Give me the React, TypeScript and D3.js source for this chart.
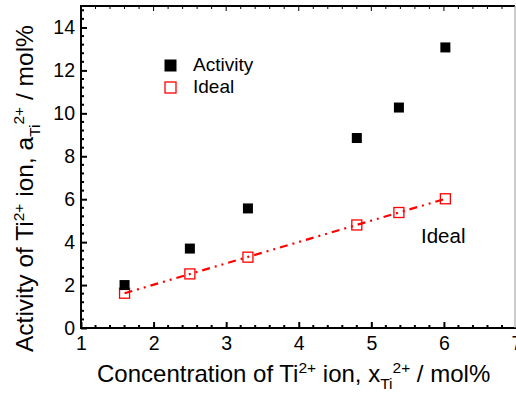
import { useEffect, useRef } from "react";
import * as d3 from "d3";

const concentration = [1.6, 2.5, 3.3, 4.8, 5.38, 6.02];
const activity = [2.0, 3.7, 5.57, 8.85, 10.27, 13.07];
const ideal = [1.62, 2.52, 3.3, 4.8, 5.38, 6.02];
const xTicks = [1, 2, 3, 4, 5, 6, 7];
const yTicks = [0, 2, 4, 6, 8, 10, 12, 14];

export default function App() {
  const svgRef = useRef<SVGSVGElement>(null);

  useEffect(() => {
    if (!svgRef.current) return;
    const svg = d3.select(svgRef.current);
    svg.selectAll("*").remove();

    const left = 81, right = 515, top = 6, bottom = 328;
    const x = d3.scaleLinear().domain([1, 7]).range([left, right + 1.5]);
    const y = d3.scaleLinear().domain([0, 15]).range([bottom, top]);
    const font = "Liberation Sans, Arial, sans-serif";

    // minor ticks
    const xMinor = d3.range(1, 7.01, 0.2).filter(v => Math.abs(v - Math.round(v)) > 0.01);
    const yMinor = d3.range(0, 15.01, 0.4).filter(v => Math.abs(v / 2 - Math.round(v / 2)) > 0.01);

    // bottom axis
    const gx = svg.append("g").attr("transform", `translate(0,${bottom})`)
      .call(d3.axisBottom(x).tickValues(xTicks).tickSize(-6).tickPadding(8).tickFormat(d3.format("d")));
    gx.select(".domain").remove();
    gx.selectAll("line").attr("stroke", "#000").attr("stroke-width", 2);
    gx.selectAll("text").attr("font-family", font).attr("font-size", 19.5).attr("fill", "#000");
    gx.selectAll(".minor").data(xMinor).enter().append("line")
      .attr("x1", d => x(d)).attr("x2", d => x(d)).attr("y1", 0).attr("y2", -3)
      .attr("stroke", "#000").attr("stroke-width", 2);

    // top axis ticks
    const gt = svg.append("g").attr("transform", `translate(0,${top})`);
    gt.selectAll("line.maj").data(xTicks).enter().append("line")
      .attr("x1", d => x(d)).attr("x2", d => x(d)).attr("y1", 0).attr("y2", 5)
      .attr("stroke", "#000").attr("stroke-width", 1);
    gt.selectAll("line.min").data(xMinor).enter().append("line")
      .attr("x1", d => x(d)).attr("x2", d => x(d)).attr("y1", 0).attr("y2", 3)
      .attr("stroke", "#000").attr("stroke-width", 1);

    // left axis
    const gy = svg.append("g").attr("transform", `translate(${left},0)`)
      .call(d3.axisLeft(y).tickValues(yTicks).tickSize(-6).tickPadding(6).tickFormat(d3.format("d")));
    gy.select(".domain").remove();
    gy.selectAll("line").attr("stroke", "#000").attr("stroke-width", 2);
    gy.selectAll("text").attr("font-family", font).attr("font-size", 19.5).attr("fill", "#000");
    gy.selectAll(".minor").data(yMinor).enter().append("line")
      .attr("x1", 0).attr("x2", 3).attr("y1", d => y(d)).attr("y2", d => y(d))
      .attr("stroke", "#000").attr("stroke-width", 2);

    // frame
    svg.append("line").attr("x1", left).attr("x2", left).attr("y1", top - 1).attr("y2", bottom + 1)
      .attr("stroke", "#000").attr("stroke-width", 2);
    svg.append("line").attr("x1", left - 1).attr("x2", right + 1).attr("y1", bottom).attr("y2", bottom)
      .attr("stroke", "#000").attr("stroke-width", 2);
    svg.append("line").attr("x1", left - 1).attr("x2", right).attr("y1", top).attr("y2", top)
      .attr("stroke", "#000").attr("stroke-width", 2);
    svg.append("line").attr("x1", right).attr("x2", right).attr("y1", top).attr("y2", bottom)
      .attr("stroke", "#999").attr("stroke-width", 1);

    // ideal line (linear fit)
    const n = concentration.length;
    const mx = d3.mean(concentration)!, my = d3.mean(ideal)!;
    const slope = d3.sum(concentration, (c, i) => (c - mx) * (ideal[i] - my)) /
      d3.sum(concentration, c => (c - mx) ** 2);
    const icpt = my - slope * mx;
    const ends = [concentration[0], concentration[n - 1]];
    svg.append("path")
      .attr("d", d3.line<number>().x(d => x(d)).y(d => y(icpt + slope * d))(ends))
      .attr("fill", "none").attr("stroke", "#ff0000").attr("stroke-width", 2.2)
      .attr("stroke-dasharray", "8,5,2,5,2,5");

    // ideal markers
    svg.selectAll(".ideal").data(concentration).enter().append("rect")
      .attr("x", d => x(d) - 5).attr("y", (d, i) => y(ideal[i]) - 5)
      .attr("width", 10).attr("height", 10)
      .attr("fill", "none").attr("stroke", "#ff0000").attr("stroke-width", 1.3);

    // activity markers
    svg.selectAll(".act").data(concentration).enter().append("rect")
      .attr("x", d => x(d) - 5).attr("y", (d, i) => y(activity[i]) - 5)
      .attr("width", 10).attr("height", 10).attr("fill", "#000");

    // legend
    svg.append("rect").attr("x", 164.5).attr("y", 59.5).attr("width", 12).attr("height", 12).attr("fill", "#000");
    svg.append("text").attr("x", 193).attr("y", 70.5).text("Activity")
      .attr("font-family", font).attr("font-size", 19);
    svg.append("rect").attr("x", 165).attr("y", 82).attr("width", 11).attr("height", 11)
      .attr("fill", "none").attr("stroke", "#ff0000").attr("stroke-width", 1.3);
    svg.append("text").attr("x", 193).attr("y", 93).text("Ideal")
      .attr("font-family", font).attr("font-size", 19);

    // annotation
    svg.append("text").attr("x", 421).attr("y", 243).text("Ideal")
      .attr("font-family", font).attr("font-size", 20.5);

    // x title
    const xt = svg.append("text").attr("x", 97).attr("y", 382)
      .attr("font-family", font).attr("font-size", 24);
    xt.append("tspan").text("Concentration of Ti");
    xt.append("tspan").text("2+").attr("font-size", 15.5).attr("dy", -9);
    xt.append("tspan").text(" ion, x").attr("dy", 9);
    xt.append("tspan").text("Ti").attr("font-size", 15.5).attr("dy", 7);
    xt.append("tspan").text("2+").attr("font-size", 15.5).attr("dy", -16);
    xt.append("tspan").text(" / mol%").attr("dy", 9);

    // y title
    const yt = svg.append("text").attr("transform", "translate(33,352) rotate(-90)")
      .attr("font-family", font).attr("font-size", 24.5);
    yt.append("tspan").text("Activity of Ti");
    yt.append("tspan").text("2+").attr("font-size", 15.5).attr("dy", -9);
    yt.append("tspan").text(" ion, a").attr("dy", 9);
    yt.append("tspan").text("Ti").attr("font-size", 15.5).attr("dy", 7);
    yt.append("tspan").text("2+").attr("font-size", 15.5).attr("dy", -16);
    yt.append("tspan").text(" / mol%").attr("dy", 9);
  }, []);

  return (
    <svg ref={svgRef} width={516} height={396}
      style={{ position: "absolute", left: 0, top: 0, background: "#fff" }} />
  );
}
